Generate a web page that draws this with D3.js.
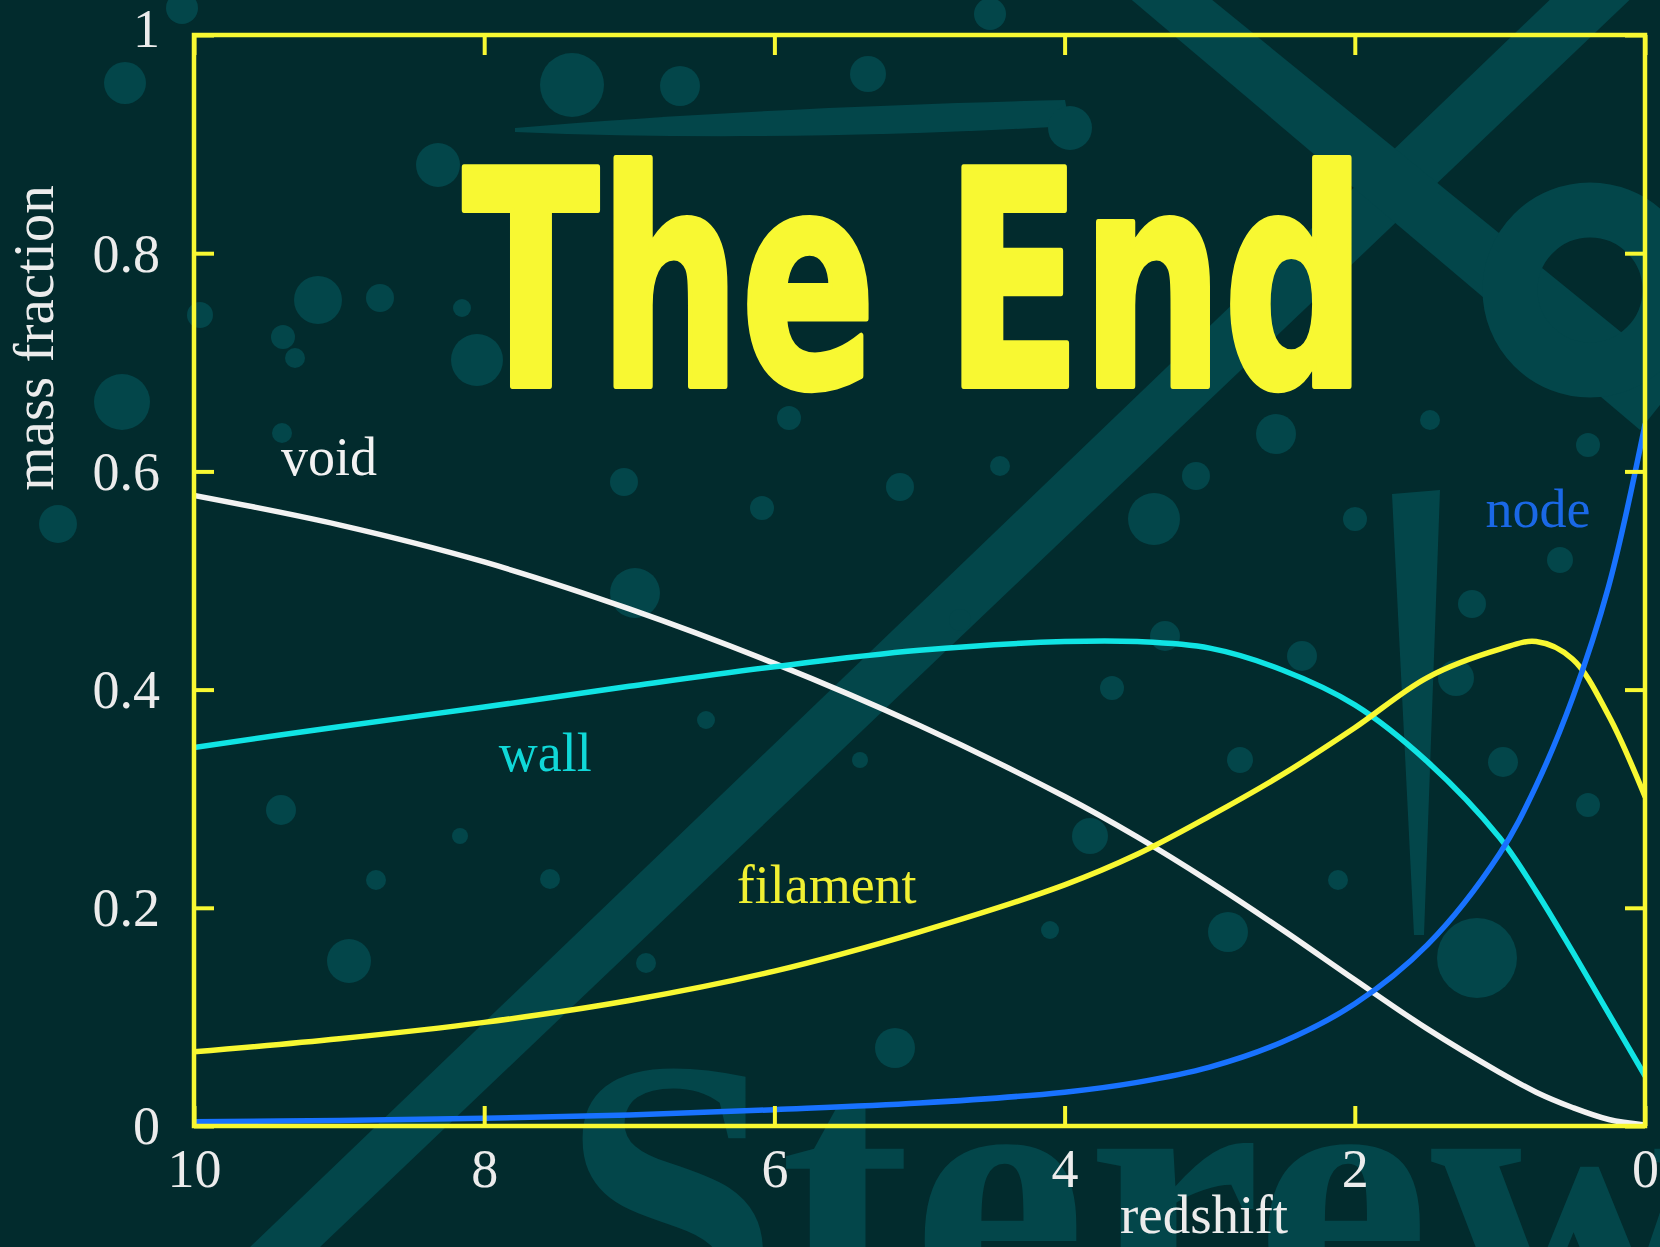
<!DOCTYPE html>
<html>
<head>
<meta charset="utf-8">
<script src="https://cdn.jsdelivr.net/npm/d3@7"></script>
<style>
  html, body { margin: 0; padding: 0; background: #022b2d; }
  svg { display: block; }
</style>
</head>
<body>
<svg id="chart" width="1660" height="1247"></svg>
<script>
// Mass fraction in each cosmic-web environment versus redshift
const redshift = [10, 9, 8, 7, 6, 5, 4, 3.5, 3, 2.5, 2, 1.5, 1, 0.75, 0.5, 0.25, 0];
const voidFrac     = [0.578, 0.551, 0.517, 0.474, 0.424, 0.367, 0.302, 0.265, 0.224, 0.180, 0.134, 0.089, 0.049, 0.031, 0.017, 0.006, 0.001];
const wallFrac     = [0.347, 0.366, 0.384, 0.403, 0.421, 0.436, 0.444, 0.444, 0.438, 0.418, 0.386, 0.334, 0.264, 0.215, 0.160, 0.103, 0.046];
const filamentFrac = [0.068, 0.080, 0.095, 0.115, 0.142, 0.178, 0.221, 0.249, 0.284, 0.322, 0.365, 0.411, 0.437, 0.444, 0.428, 0.376, 0.302];
const nodeFrac     = [0.004, 0.005, 0.007, 0.010, 0.015, 0.021, 0.031, 0.040, 0.054, 0.077, 0.112, 0.166, 0.250, 0.312, 0.392, 0.495, 0.643];

const seriesNames  = ["void", "wall", "filament", "node"];
const seriesColors = ["#f2f2f2", "#10e4e4", "#f8f832", "#1872ff"];
const labelColors  = ["#f2f2f2", "#10d8d8", "#f0f032", "#1a68e6"];
// label anchor (redshift, mass fraction) for each curve name
const labelZ = [9.4, 7.9, 6.26, 1.1];
const labelV = [0.597, 0.325, 0.204, 0.549];

const xTicks = [10, 8, 6, 4, 2, 0];
const yTicks = [0, 0.2, 0.4, 0.6, 0.8, 1];
const xTitle = "redshift";
const yTitle = "mass fraction";
const bannerText = "The End";

const svg = d3.select("#chart");
const W = 1660, H = 1247;
const plotL = 194, plotR = 1645, plotT = 35, plotB = 1126;

const x = d3.scaleLinear().domain([10, 0]).range([plotL, plotR]);
const y = d3.scaleLinear().domain([0, 1]).range([plotB, plotT]);

const bgFill = "#022b2d";
const decoFill = "#03464a";
const gold = "#f8f832";
const serif = "'Liberation Serif', 'Times New Roman', serif";

// ---- backdrop artwork ----
svg.append("rect").attr("width", W).attr("height", H).attr("fill", bgFill);
const deco = svg.append("g").attr("fill", decoFill);

// long diagonal band and crossing arm
deco.append("path").attr("d", "M250,1247 L320,1247 L1640,-10 L1560,-10 Z");
deco.append("path").attr("d", "M1120,-10 L1200,-10 L1680,380 L1640,430 Z");
// loop on the right edge
deco.append("circle").attr("cx", 1590).attr("cy", 290).attr("r", 80)
  .attr("fill", "none").attr("stroke", decoFill).attr("stroke-width", 55);
// brush stroke above the banner
deco.append("path").attr("d", "M515,128 C700,112 900,104 1065,100 L1070,126 C900,136 700,140 515,132 Z");
// tapered vertical streak
deco.append("path").attr("d", "M1392,494 L1440,490 L1424,935 L1414,935 Z");
// large letters along the bottom
deco.append("text").attr("x", 560).attr("y", 1330)
  .attr("font-family", serif).attr("font-weight", "bold")
  .attr("font-size", 395).attr("fill", decoFill).text("Sterew");

const blobs = [
  [125,83,21],[182,8,16],[318,300,24],[380,298,14],[283,337,12],[295,358,10],[122,402,28],
  [438,165,22],[477,360,26],[462,308,9],[200,315,13],[282,433,10],[58,524,19],[572,85,32],
  [680,86,20],[868,74,18],[990,14,16],[1070,128,22],[281,810,15],[349,961,22],[376,880,10],
  [635,593,25],[624,482,14],[789,418,12],[1154,519,26],[1276,434,20],[1196,476,14],[1355,519,12],
  [1477,958,40],[1228,932,20],[1090,836,18],[1165,636,15],[1302,656,15],[1456,678,18],[1472,604,14],
  [1588,445,12],[895,1048,20],[646,963,10],[460,836,8],[550,879,10],[762,508,12],[900,487,14],
  [1000,466,10],[1112,688,12],[1503,762,15],[1588,805,12],[706,720,9],[960,620,11],[1240,760,13],
  [1338,880,10],[860,760,8],[1050,930,9],[1430,420,10],[1560,560,13]
];
deco.selectAll("circle.blob").data(blobs).join("circle")
  .attr("class", "blob")
  .attr("cx", d => d[0]).attr("cy", d => d[1]).attr("r", d => d[2]);

// ---- banner ----
svg.append("text")
  .attr("x", 463).attr("y", 386)
  .attr("textLength", 903).attr("lengthAdjust", "spacingAndGlyphs")
  .attr("font-family", "'DejaVu Sans Condensed', 'DejaVu Sans', sans-serif")
  .attr("font-weight", "bold").attr("font-size", 300)
  .attr("fill", gold).attr("stroke", gold).attr("stroke-width", 6)
  .attr("stroke-linejoin", "round")
  .text(bannerText);

// ---- curves ----
svg.append("clipPath").attr("id", "plotClip")
  .append("rect").attr("x", plotL).attr("y", plotT - 2)
  .attr("width", plotR - plotL).attr("height", plotB - plotT + 4);

const allSeries = [voidFrac, wallFrac, filamentFrac, nodeFrac];
const line = d3.line()
  .x((d, i) => x(redshift[i]))
  .y(d => y(d))
  .curve(d3.curveCatmullRom.alpha(0.5));

const curves = svg.append("g").attr("clip-path", "url(#plotClip)");
allSeries.forEach((vals, k) => {
  curves.append("path")
    .attr("d", line(vals))
    .attr("fill", "none")
    .attr("stroke", seriesColors[k])
    .attr("stroke-width", 5.5)
    .attr("stroke-linecap", "round");
});

// ---- frame and ticks ----
const frame = svg.append("g").attr("stroke", gold).attr("stroke-width", 4.5).attr("fill", "none");
frame.append("rect").attr("x", plotL).attr("y", plotT)
  .attr("width", plotR - plotL).attr("height", plotB - plotT);

const tickLen = 20;
const axBottom = svg.append("g").attr("transform", `translate(0,${plotB})`)
  .call(d3.axisBottom(x).tickValues(xTicks).tickSize(-tickLen).tickFormat(d3.format("d")));
const axTop = svg.append("g").attr("transform", `translate(0,${plotT})`)
  .call(d3.axisTop(x).tickValues(xTicks).tickSize(-tickLen).tickFormat(""));
const axLeft = svg.append("g").attr("transform", `translate(${plotL},0)`)
  .call(d3.axisLeft(y).tickValues(yTicks).tickSize(-tickLen).tickFormat(d => d === 0 || d === 1 ? d3.format("d")(d) : d3.format(".1f")(d)));
const axRight = svg.append("g").attr("transform", `translate(${plotR},0)`)
  .call(d3.axisRight(y).tickValues(yTicks).tickSize(-tickLen).tickFormat(""));

[axBottom, axTop, axLeft, axRight].forEach(g => {
  g.select(".domain").remove();
  g.selectAll(".tick line").attr("stroke", gold).attr("stroke-width", 4);
  g.selectAll(".tick text")
    .attr("fill", "#ececec")
    .attr("font-family", serif)
    .attr("font-size", 54);
});
axBottom.selectAll(".tick text").attr("y", 0).attr("dy", 0)
  .attr("transform", "translate(0,61)");
axLeft.selectAll(".tick text").attr("x", -34).attr("dy", "0.33em");
axLeft.selectAll(".tick").filter(d => d === 1).select("text").attr("dy", "0.22em");

// ---- axis titles ----
svg.append("text")
  .attr("x", 1204).attr("y", 1233)
  .attr("text-anchor", "middle")
  .attr("font-family", serif).attr("font-size", 55)
  .attr("fill", "#ececec").text(xTitle);

svg.append("text")
  .attr("transform", "translate(53,338) rotate(-90)")
  .attr("text-anchor", "middle")
  .attr("font-family", serif).attr("font-size", 57)
  .attr("fill", "#ececec").text(yTitle);

// ---- curve names ----
svg.append("g").selectAll("text").data(seriesNames).join("text")
  .attr("x", (d, i) => x(labelZ[i]))
  .attr("y", (d, i) => y(labelV[i]))
  .attr("font-family", serif).attr("font-size", 54)
  .attr("fill", (d, i) => labelColors[i])
  .text(d => d);
</script>
</body>
</html>
